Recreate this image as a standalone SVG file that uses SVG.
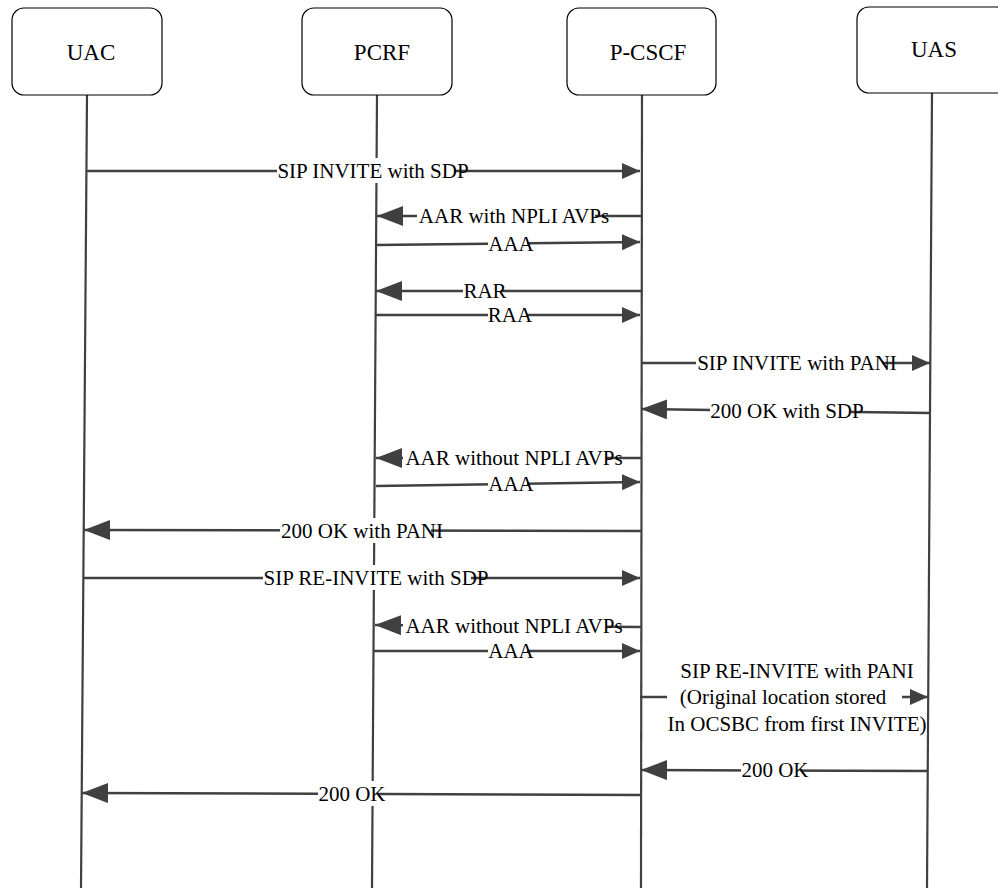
<svg xmlns="http://www.w3.org/2000/svg" width="998" height="888" viewBox="0 0 998 888">
<style>
.box{fill:#fff;stroke:#000;stroke-width:1.2}
.hd{font-family:'Liberation Serif',Tinos,'Times New Roman',Times,'DejaVu Serif',serif;font-size:23px;fill:#000;text-anchor:middle}
.life{stroke:#404040;stroke-width:2.2;fill:none}
.msg{stroke:#404040;stroke-width:2.5;fill:none}
.r{marker-end:url(#ah)}
.l{marker-end:url(#ahb)}
.bg{fill:#fff}
.lb{font-family:'Liberation Serif',Tinos,'Times New Roman',Times,'DejaVu Serif',serif;font-size:21px;fill:#000;text-anchor:middle}
</style>
<defs>
<marker id="ah" markerUnits="userSpaceOnUse" markerWidth="20" markerHeight="18" refX="18" refY="8" orient="auto">
<path d="M0,0 L18,8 L0,16 Z" fill="#404040"/>
</marker>
<marker id="ahb" markerUnits="userSpaceOnUse" markerWidth="28" markerHeight="22" refX="26" refY="10" orient="auto">
<path d="M0,0 L26,10 L0,20 Z" fill="#404040"/>
</marker>
</defs>
<rect width="998" height="888" fill="#fff"/>
<g id="lifelines">
<line class="life" x1="87" y1="95" x2="81" y2="888"/>
<line class="life" x1="377" y1="95" x2="372" y2="888"/>
<line class="life" x1="642" y1="95" x2="641" y2="888"/>
<line class="life" x1="932" y1="93" x2="927" y2="888"/>
</g>
<g id="UAC"><rect class="box" x="12" y="8" width="150" height="87" rx="12"/><text class="hd" x="91" y="60">UAC</text></g>
<g id="PCRF"><rect class="box" x="302" y="8" width="150" height="87" rx="12"/><text class="hd" x="382" y="60">PCRF</text></g>
<g id="P-CSCF"><rect class="box" x="567" y="8" width="149" height="87" rx="12"/><text class="hd" x="648" y="60">P-CSCF</text></g>
<g id="UAS"><rect class="box" x="857" y="7" width="152" height="86" rx="12"/><text class="hd" x="934" y="57">UAS</text></g>
<g id="connectors">
<line class="msg r" x1="86" y1="171" x2="640" y2="171"/>
<line class="msg l" x1="641" y1="216" x2="377" y2="216"/>
<line class="msg r" x1="376" y1="245" x2="640" y2="242"/>
<line class="msg l" x1="641" y1="291" x2="376" y2="291"/>
<line class="msg r" x1="376" y1="315" x2="640" y2="315"/>
<line class="msg r" x1="641" y1="363" x2="930" y2="363"/>
<line class="msg l" x1="930" y1="413" x2="641" y2="409"/>
<line class="msg l" x1="641" y1="458" x2="376" y2="458"/>
<line class="msg r" x1="376" y1="486" x2="640" y2="482"/>
<line class="msg l" x1="641" y1="531" x2="84" y2="530"/>
<line class="msg r" x1="84" y1="578" x2="640" y2="578"/>
<line class="msg l" x1="641" y1="627" x2="375" y2="625"/>
<line class="msg r" x1="374" y1="651" x2="640" y2="651"/>
<line class="msg r" x1="640" y1="697" x2="928" y2="697"/>
<line class="msg l" x1="928" y1="771" x2="641" y2="770"/>
<line class="msg l" x1="641" y1="795" x2="82" y2="793"/>
</g>
<g id="labels">
<rect class="bg" x="277" y="158" width="177" height="25"/><text class="lb" x="373" y="178">SIP INVITE with SDP</text>
<rect class="bg" x="417" y="203" width="178" height="25"/><text class="lb" x="514" y="223">AAR with NPLI AVPs</text>
<rect class="bg" x="488" y="231" width="39" height="25"/><text class="lb" x="511" y="251">AAA</text>
<rect class="bg" x="463" y="278" width="38" height="25"/><text class="lb" x="485" y="298">RAR</text>
<rect class="bg" x="488" y="302" width="39" height="25"/><text class="lb" x="510" y="322">RAA</text>
<rect class="bg" x="696" y="350" width="186" height="25"/><text class="lb" x="797" y="370">SIP INVITE with PANI</text>
<rect class="bg" x="710" y="398" width="141" height="25"/><text class="lb" x="787" y="418">200 OK with SDP</text>
<rect class="bg" x="403" y="445" width="203" height="25"/><text class="lb" x="514" y="465">AAR without NPLI AVPs</text>
<rect class="bg" x="488" y="471" width="39" height="25"/><text class="lb" x="511" y="491">AAA</text>
<rect class="bg" x="280" y="518" width="151" height="25"/><text class="lb" x="362" y="538">200 OK with PANI</text>
<rect class="bg" x="263" y="565" width="208" height="25"/><text class="lb" x="376" y="585">SIP RE-INVITE with SDP</text>
<rect class="bg" x="403" y="613" width="203" height="25"/><text class="lb" x="514" y="633">AAR without NPLI AVPs</text>
<rect class="bg" x="488" y="638" width="39" height="25"/><text class="lb" x="511" y="658">AAA</text>
<rect class="bg" x="667" y="660" width="235" height="76"/>
<text class="lb" x="797" y="678">SIP RE-INVITE with PANI</text>
<text class="lb" x="783" y="704">(Original location stored</text>
<text class="lb" x="797" y="731">In OCSBC from first INVITE)</text>
<rect class="bg" x="741" y="758" width="60" height="25"/><text class="lb" x="775" y="777">200 OK</text>
<rect class="bg" x="318" y="781" width="60" height="25"/><text class="lb" x="352" y="801">200 OK</text>
</g>
</svg>
